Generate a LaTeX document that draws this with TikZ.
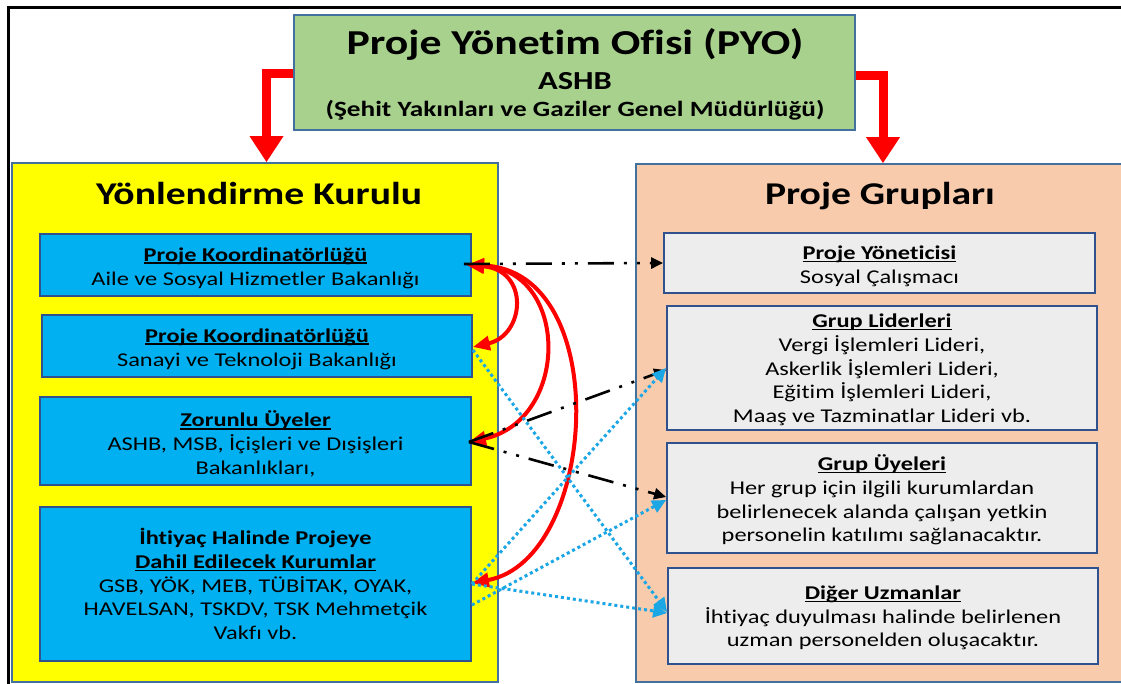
\documentclass[tikz,border=0pt]{standalone}
\usepackage{fontspec}
\setmainfont{Carlito}[FakeStretch=1.25,Ligatures=NoCommon]
\usetikzlibrary{arrows.meta}
\definecolor{pyogreen}{HTML}{A9D18E}
\definecolor{ykyellow}{HTML}{FFFF00}
\definecolor{pgpeach}{HTML}{F8CBAD}
\definecolor{lblue}{HTML}{00B0F0}
\definecolor{lgray}{HTML}{EDEDED}
\definecolor{contb}{HTML}{41719C}
\definecolor{boxb}{HTML}{2F528F}
\definecolor{dotblue}{HTML}{1BA6E6}
\definecolor{arrred}{HTML}{FF0000}
\newcommand\ulx[1]{\leavevmode\setbox0=\hbox{#1}\rlap{\rule[-0.13em]{\wd0}{0.07em}}\box0}
\tikzset{
  cont/.style={draw=contb, line width=1.5pt, inner sep=0pt},
  boxtext/.style={align=center, inner sep=0pt, font=\fontsize{19.5pt}{23.7pt}\selectfont},
  lbox/.style={draw=boxb, line width=1.8pt, fill=lblue, inner sep=0pt},
  rbox/.style={draw=boxb, line width=1.8pt, fill=lgray, inner sep=0pt},
  bigarrow/.style={draw=arrred, line width=9pt, line join=miter, -{Triangle[width=32pt,length=26pt]}},
  redc/.style={draw=arrred, line width=4pt, {Triangle[width=14pt,length=17pt]}-{Triangle[width=14pt,length=17pt]}},
  blk/.style={draw=black, line width=2.6pt, dash pattern=on 26pt off 10pt on 3pt off 10pt on 3pt off 10pt, -{Triangle[width=11pt,length=12pt]}},
  bl/.style={draw=dotblue, line width=3pt, dash pattern=on 3pt off 3pt, -{Triangle[width=13pt,length=14pt]}},
}
\begin{document}
\begin{tikzpicture}[x=1pt,y=-1pt]
\useasboundingbox (0,0) rectangle (1121,684);
\clip (0,0) rectangle (1121,684);
\fill[white] (0,0) rectangle (1121,684);
% outer frame
\draw[black, line width=3pt] (8.7,7.5) rectangle (1140,700);
% containers
\node[cont, fill=ykyellow, minimum width=486pt, minimum height=519pt] (yk) at (255,422.5) {};
\node[cont, fill=pgpeach, minimum width=494pt, minimum height=518pt] (pg) at (883,423) {};
\node[cont, fill=pyogreen, minimum width=561pt, minimum height=115pt] (g) at (574.5,72.5) {};
% green texts
\node[anchor=base, inner sep=0pt, font=\fontsize{35pt}{40pt}\selectfont\bfseries] (gt1) at (575,55) {Proje Yönetim Ofisi (PYO)};
\node[anchor=base, inner sep=0pt, font=\fontsize{26pt}{30pt}\selectfont\bfseries] (gt2) at (575,90) {ASHB};
\node[anchor=base, inner sep=0pt, font=\fontsize{21.8pt}{26pt}\selectfont\bfseries] (gt3) at (575,117) {(Şehit Yakınları ve Gaziler Genel Müdürlüğü)};
% container titles
\node[anchor=base, inner sep=0pt, font=\fontsize{31.7pt}{36pt}\selectfont\bfseries] (ykt) at (259,205) {Yönlendirme Kurulu};
\node[anchor=base, inner sep=0pt, font=\fontsize{31.7pt}{36pt}\selectfont\bfseries] (pgt) at (880,205) {Proje Grupları};
% left boxes
\node[lbox, minimum width=431pt, minimum height=62pt,
  label={[boxtext, yshift=-3pt]center:{\ulx{\textbf{Proje Koordinatörlüğü}}\\Aile ve Sosyal Hizmetler Bakanlığı}}] (b1) at (255.5,265) {};
\node[lbox, minimum width=430pt, minimum height=62pt,
  label={[boxtext, yshift=-3pt]center:{\ulx{\textbf{Proje Koordinatörlüğü}}\\Sanayi ve Teknoloji Bakanlığı}}] (b2) at (257,346) {};
\node[lbox, minimum width=431pt, minimum height=88pt,
  label={[boxtext, yshift=-3pt]center:{\ulx{\textbf{Zorunlu Üyeler}}\\ASHB, MSB, İçişleri ve Dışişleri\\Bakanlıkları,}}] (b3) at (255.5,441) {};
\node[lbox, minimum width=431pt, minimum height=154pt,
  label={[boxtext, yshift=0pt]center:{\textbf{İhtiyaç Halinde Projeye}\\\ulx{\textbf{Dahil Edilecek Kurumlar}}\\GSB, YÖK, MEB, TÜBİTAK, OYAK,\\HAVELSAN, TSKDV, TSK Mehmetçik\\Vakfı vb.}}] (b4) at (255.5,584) {};
% right boxes
\node[rbox, minimum width=431pt, minimum height=60pt,
  label={[boxtext, yshift=-3pt]center:{\ulx{\textbf{Proje Yöneticisi}}\\Sosyal Çalışmacı}}] (py) at (879.5,263) {};
\node[rbox, minimum width=430pt, minimum height=124pt,
  label={[boxtext, yshift=-2pt]center:{\ulx{\textbf{Grup Liderleri}}\\Vergi İşlemleri Lideri,\\Askerlik İşlemleri Lideri,\\Eğitim İşlemleri Lideri,\\Maaş ve Tazminatlar Lideri vb.}}] (gl) at (882,368) {};
\node[rbox, minimum width=430pt, minimum height=110pt,
  label={[boxtext, yshift=-2pt]center:{\ulx{\textbf{Grup Üyeleri}}\\Her grup için ilgili kurumlardan\\belirlenecek alanda çalışan yetkin\\personelin katılımı sağlanacaktır.}}] (gu) at (882,498) {};
\node[rbox, minimum width=430pt, minimum height=96pt,
  label={[boxtext, yshift=-2pt]center:{\ulx{\textbf{Diğer Uzmanlar}}\\İhtiyaç duyulması halinde belirlenen\\uzman personelden oluşacaktır.}}] (du) at (883,616) {};
% big red arrows
\draw[bigarrow] ([yshift=-1.5pt]g.west) -| ([xshift=11.5pt]yk.north);
\draw[bigarrow] ([yshift=-3.5pt]g.east) -| (pg.north);
% hub coordinates
\coordinate (h1) at ([xshift=-5pt]b1.east);
\coordinate (h1b) at ([xshift=-8pt,yshift=1pt]b1.east);
\coordinate (h2) at ([yshift=-1pt]b2.east);
\coordinate (h3) at ([xshift=-3pt,yshift=-1pt]b3.east);
\coordinate (h4) at ([yshift=1pt]b4.east);
% red curved arrows
\draw[redc] (h1) .. controls (530,270) and (525,335) .. (h2);
\draw[redc] (h1) .. controls (570,270) and (570,420) .. (h3);
\draw[redc] (h1) .. controls (615,270) and (598,560) .. (h4);
% black dash-dot arrows
\draw[blk] (h1b) -- (py.west);
\draw[blk] (h3) -- ([yshift=-2pt]gl.west);
\draw[blk] (h3) -- ([yshift=1pt]gu.west);
% blue dotted arrows
\draw[bl] ([yshift=-4pt]b2.east) -- ([yshift=4pt]du.west);
\draw[bl] (b4.east) -- (gl.west);
\draw[bl] ([yshift=-21pt]b4.east) -- ([yshift=-2pt]gu.west);
\draw[bl] (b4.east) -- ([yshift=3pt]du.west);
\end{tikzpicture}
\end{document}
